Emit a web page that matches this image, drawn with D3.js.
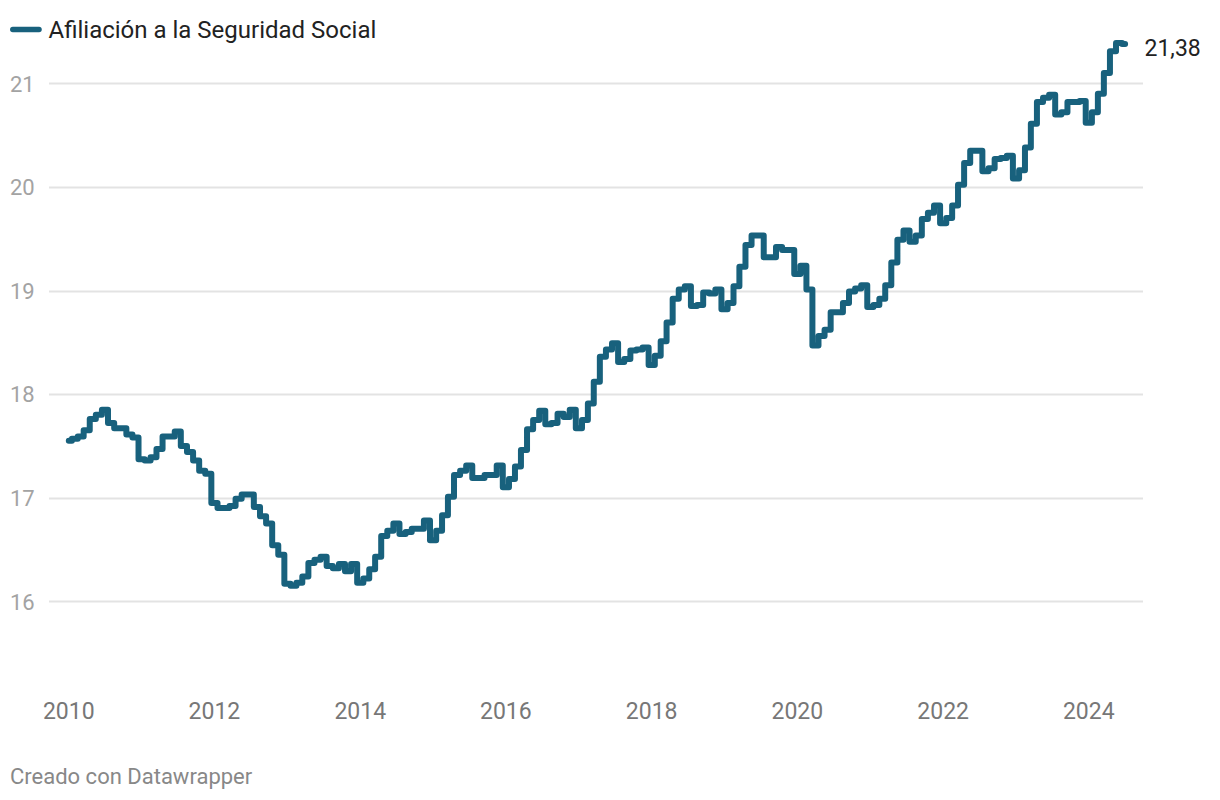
<!DOCTYPE html>
<html>
<head>
<meta charset="utf-8">
<script src="https://cdn.jsdelivr.net/npm/d3@7"></script>
<style>
  html, body { margin: 0; padding: 0; background: #fff; }
  svg { display: block; font-family: Roboto, "Noto Sans", sans-serif; }
</style>
</head>
<body>
<svg id="chart" width="1220" height="800"></svg>
<script>
// ---- data (millones de afiliados, media mensual) ----
const seriesName = "Afiliación a la Seguridad Social";
const startMonth = "2010-01";
const v2010 = [17.55, 17.57, 17.59, 17.65, 17.76, 17.80, 17.85, 17.72, 17.67, 17.67, 17.61, 17.58];
const v2011 = [17.37, 17.36, 17.39, 17.47, 17.59, 17.59, 17.64, 17.50, 17.44, 17.36, 17.26, 17.23];
const v2012 = [16.95, 16.90, 16.90, 16.92, 16.99, 17.03, 17.03, 16.91, 16.82, 16.75, 16.54, 16.45];
const v2013 = [16.17, 16.15, 16.18, 16.24, 16.37, 16.40, 16.43, 16.34, 16.32, 16.36, 16.29, 16.36];
const v2014 = [16.18, 16.22, 16.31, 16.43, 16.63, 16.68, 16.75, 16.65, 16.67, 16.70, 16.70, 16.78];
const v2015 = [16.59, 16.68, 16.83, 17.01, 17.22, 17.26, 17.31, 17.19, 17.19, 17.22, 17.22, 17.31];
const v2016 = [17.10, 17.18, 17.30, 17.46, 17.66, 17.75, 17.84, 17.71, 17.72, 17.81, 17.78, 17.85];
const v2017 = [17.67, 17.75, 17.91, 18.12, 18.36, 18.43, 18.49, 18.31, 18.34, 18.42, 18.43, 18.45];
const v2018 = [18.28, 18.37, 18.51, 18.69, 18.92, 19.01, 19.04, 18.85, 18.86, 18.98, 18.97, 19.01];
const v2019 = [18.82, 18.88, 19.04, 19.23, 19.44, 19.53, 19.53, 19.32, 19.32, 19.42, 19.39, 19.39];
const v2020 = [19.16, 19.24, 19.01, 18.47, 18.56, 18.62, 18.79, 18.79, 18.88, 18.99, 19.02, 19.05];
const v2021 = [18.84, 18.86, 18.92, 19.05, 19.27, 19.49, 19.58, 19.47, 19.53, 19.69, 19.75, 19.82];
const v2022 = [19.65, 19.70, 19.82, 20.02, 20.23, 20.35, 20.35, 20.15, 20.18, 20.27, 20.28, 20.30];
const v2023 = [20.08, 20.16, 20.38, 20.61, 20.82, 20.86, 20.89, 20.70, 20.72, 20.82, 20.82, 20.83];
const v2024 = [20.62, 20.72, 20.90, 21.10, 21.31, 21.39, 21.38];
const yTicks = [16, 17, 18, 19, 20, 21];
const xTickYears = [2010, 2012, 2014, 2016, 2018, 2020, 2022, 2024];
const endLabel = "21,38";
const footerText = "Creado con Datawrapper";

// ---- build table ----
const values = [].concat(v2010, v2011, v2012, v2013, v2014, v2015, v2016, v2017,
                         v2018, v2019, v2020, v2021, v2022, v2023, v2024);
const t0 = d3.utcParse("%Y-%m")(startMonth);
const data = values.map((v, i) => ({ date: d3.utcMonth.offset(t0, i), value: v }));

const svg = d3.select("#chart");
const lineColor = "#18617d";

const x = d3.scaleUtc()
  .domain([new Date(Date.UTC(2010, 0, 1)), new Date(Date.UTC(2024, 0, 1))])
  .range([68.8, 1088.8]);
const y = d3.scaleLinear().domain([16, 21]).range([601.3, 83.3]);

// gridlines + y labels
const grid = svg.append("g");
grid.selectAll("line").data(yTicks).join("line")
  .attr("x1", 49).attr("x2", 1143)
  .attr("y1", d => Math.round(y(d)) + 0.5).attr("y2", d => Math.round(y(d)) + 0.5)
  .attr("stroke", "#e3e3e3").attr("stroke-width", 2);
grid.selectAll("text").data(yTicks).join("text")
  .attr("x", 10).attr("y", d => y(d) + 8.2)
  .attr("fill", "#a3a3a3").attr("font-size", 22)
  .text(d => d);

// x axis labels
const xa = svg.append("g");
xa.selectAll("text").data(xTickYears).join("text")
  .attr("x", d => x(new Date(Date.UTC(d, 0, 1))))
  .attr("y", 718.5)
  .attr("text-anchor", "middle")
  .attr("fill", "#777").attr("font-size", 23)
  .text(d => d);

// line
const line = d3.line()
  .x(d => x(d.date))
  .y(d => y(d.value))
  .curve(d3.curveStep);
svg.append("path")
  .datum(data)
  .attr("d", line)
  .attr("fill", "none")
  .attr("stroke", lineColor)
  .attr("stroke-width", 6)
  .attr("stroke-linejoin", "round")
  .attr("stroke-linecap", "round");

// end label
const last = data[data.length - 1];
svg.append("text")
  .attr("x", 1144.5)
  .attr("y", y(last.value) + 12.5)
  .attr("fill", "#222").attr("font-size", 23)
  .text(endLabel);

// legend
svg.append("line")
  .attr("x1", 12.8).attr("x2", 39).attr("y1", 29.5).attr("y2", 29.5)
  .attr("stroke", lineColor).attr("stroke-width", 5.5).attr("stroke-linecap", "round");
svg.append("text")
  .attr("x", 48.5).attr("y", 37.8)
  .attr("fill", "#222").attr("font-size", 24)
  .text(seriesName);

// footer
svg.append("text")
  .attr("x", 10).attr("y", 784)
  .attr("fill", "#888").attr("font-size", 22)
  .text(footerText);
</script>
</body>
</html>
